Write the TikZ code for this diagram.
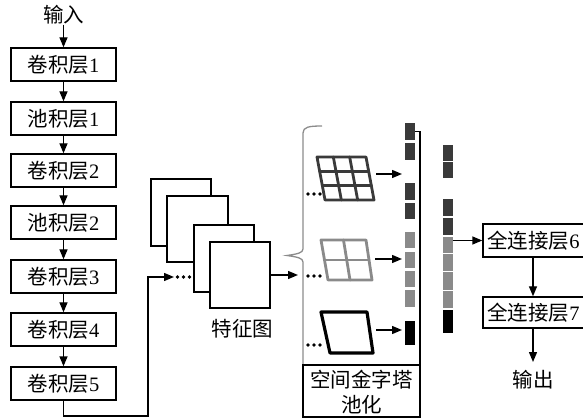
\documentclass[tikz,border=0pt]{standalone}
\usepackage{fontspec}
\setmainfont{Liberation Serif}
\newfontfamily\cjk{Noto Sans CJK SC}
\usetikzlibrary{arrows.meta,calc}
\definecolor{darksq}{HTML}{3A3A3A}
\definecolor{greysq}{HTML}{8A8A8A}
\definecolor{bracegrey}{HTML}{8C8C8C}
\begin{document}
\begin{tikzpicture}[x=1pt,y=-1pt,
  txt/.style={inner sep=0pt, font=\fontsize{20.5}{24}\selectfont},
  layer/.style={draw, line width=1.4pt, minimum width=105pt, minimum height=33pt, inner sep=0pt, font=\fontsize{20.5}{24}\selectfont},
  fmap/.style={draw, fill=white, line width=1.4pt, inner sep=0pt},
  arr/.style={-{Triangle[length=10pt,width=8pt]}, line width=1.4pt},
  sq/.style={inner sep=0pt, minimum width=10pt},
  dot/.style={circle, fill=black, inner sep=0pt, minimum size=3.6pt},
  gridline/.style={line width=2.8pt, line join=round, line cap=round}]
\useasboundingbox (0,0) rectangle (583,419);

% left column
\node[txt] (in) at (63.5,15) {\cjk 输入};
\node[layer] (c1) at (63.5,64.5) {{\cjk 卷积层}1};
\node[layer] (p1) at (63.5,118.5) {{\cjk 池积层}1};
\node[layer] (c2) at (63.5,170.5) {{\cjk 卷积层}2};
\node[layer] (p2) at (63.5,222.5) {{\cjk 池积层}2};
\node[layer] (c3) at (63.5,276.5) {{\cjk 卷积层}3};
\node[layer] (c4) at (63.5,329.5) {{\cjk 卷积层}4};
\node[layer] (c5) at (63.5,383.5) {{\cjk 卷积层}5};
\draw[arr] (in) -- (c1);
\draw[arr] (c1) -- (p1);
\draw[arr] (p1) -- (c2);
\draw[arr] (c2) -- (p2);
\draw[arr] (p2) -- (c3);
\draw[arr] (c3) -- (c4);
\draw[arr] (c4) -- (c5);

% feature maps
\node[fmap, minimum width=60pt, minimum height=67pt] (f1) at (181,212.5) {};
\node[fmap, minimum width=61pt, minimum height=66pt] (f2) at (197.5,229) {};
\node[fmap, minimum width=60pt, minimum height=67pt] (f3) at (224,258.5) {};
\node[fmap, minimum width=60pt, minimum height=66pt] (f4) at (240,275) {};
\node[txt] (fl) at (242.5,329) {\cjk 特征图};
\node[dot] (d1) at (177.5,277) {};
\node[dot] (d2) at (183.5,277) {};
\node[dot] (d3) at (189.5,277) {};

% connector from conv5 to feature maps
\coordinate (k2) at (148,416);
\coordinate (k4) at (174,277);
\draw[arr] (c5.south) |- (k2) |- (k4);

% arrow to brace
\coordinate (bt) at (298,275);
\draw[arr] (f4.east |- bt) -- (bt);

% brace
\draw[bracegrey, line width=1.3pt] (322,126) .. controls (309,126) and (303,127) .. (303,133)
  -- (303,249) .. controls (303,253) and (297,254) .. (287,255.5)
  .. controls (297,257) and (303,258) .. (303,262) -- (303,365);

% column 1 squares
\foreach \n/\a/\b/\c in {1/123/140/darksq,2/143/160/darksq,3/183/200/darksq,4/203/219/darksq,
  5/232/248/greysq,6/252/268/greysq,7/271/287/greysq,8/290/307/greysq,9/321/345/black}{
  \node[sq, fill=\c, minimum height={\b-\a}] (s\n) at (410,{(\a+\b)/2}) {};
}
% column 2 squares
\foreach \n/\a/\b/\c in {1/145/161/darksq,2/162.5/178/darksq,3/199/216/darksq,4/218/235/darksq,
  5/237/253/greysq,6/254.5/271/greysq,7/272.5/290/greysq,8/291.5/308/greysq,9/310/333/black}{
  \node[sq, fill=\c, minimum height={\b-\a}] (t\n) at (447.5,{(\a+\b)/2}) {};
}

% box around pooling
\draw[line width=1.4pt] (s1.east) -- (420,131.5) -- (420,417) -- (303,417) -- (303,365) -- (420,365);
\node[txt, align=center, font=\fontsize{20.5}{25}\selectfont] (spp) at (361.5,392) {\cjk 空间金字塔\\\cjk 池化};

% 3x3 grid
\coordinate (A) at (317,157); \coordinate (B) at (366,157);
\coordinate (C) at (374,200); \coordinate (D) at (325,200);
\draw[gridline, draw=darksq] (A) -- (B) -- (C) -- (D) -- cycle;
\foreach \t in {0.3333,0.6667}{
  \draw[gridline, draw=darksq] ($(A)!\t!(B)$) -- ($(D)!\t!(C)$);
  \draw[gridline, draw=darksq] ($(A)!\t!(D)$) -- ($(B)!\t!(C)$);
}
% 2x2 grid
\coordinate (E) at (321,240); \coordinate (F) at (366,240);
\coordinate (G) at (372,280); \coordinate (H) at (328,280);
\draw[gridline, draw=greysq] (E) -- (F) -- (G) -- (H) -- cycle;
\draw[gridline, draw=greysq] ($(E)!0.5!(F)$) -- ($(H)!0.5!(G)$);
\draw[gridline, draw=greysq] ($(E)!0.5!(H)$) -- ($(F)!0.5!(G)$);
% 1x1
\draw[gridline, line width=3.2pt] (321,312) -- (367,312) -- (373,353) -- (330,353) -- cycle;

% dots
\foreach \y/\m in {194/a,276/b,345/c}{
  \node[dot] (\m1) at (308,\y) {};
  \node[dot] (\m2) at (314,\y) {};
  \node[dot] (\m3) at (320,\y) {};
}

% arrows from grids
\coordinate (g1) at (402,174); \coordinate (g2) at (402,259); \coordinate (g3) at (402,330);
\draw[arr] (376,174) -- (g1);
\draw[arr] (375,259) -- (g2);
\draw[arr] (376,330) -- (g3);

% fully connected
\node[layer, minimum width=101pt, minimum height=33pt] (fc6) at (533.5,240.5) {{\cjk 全连接层}6};
\node[layer, minimum width=101pt, minimum height=31pt] (fc7) at (533.5,312.5) {{\cjk 全连接层}7};
\draw[arr] (t5.east |- fc6.west) -- (fc6.west);
\draw[arr] (fc6.south -| 533,0) -- (fc7.north -| 533,0);
\coordinate (oe) at (533,362);
\node[txt] (out) at (533,380) {\cjk 输出};
\draw[arr] (fc7.south -| oe) -- (oe);
\end{tikzpicture}
\end{document}
